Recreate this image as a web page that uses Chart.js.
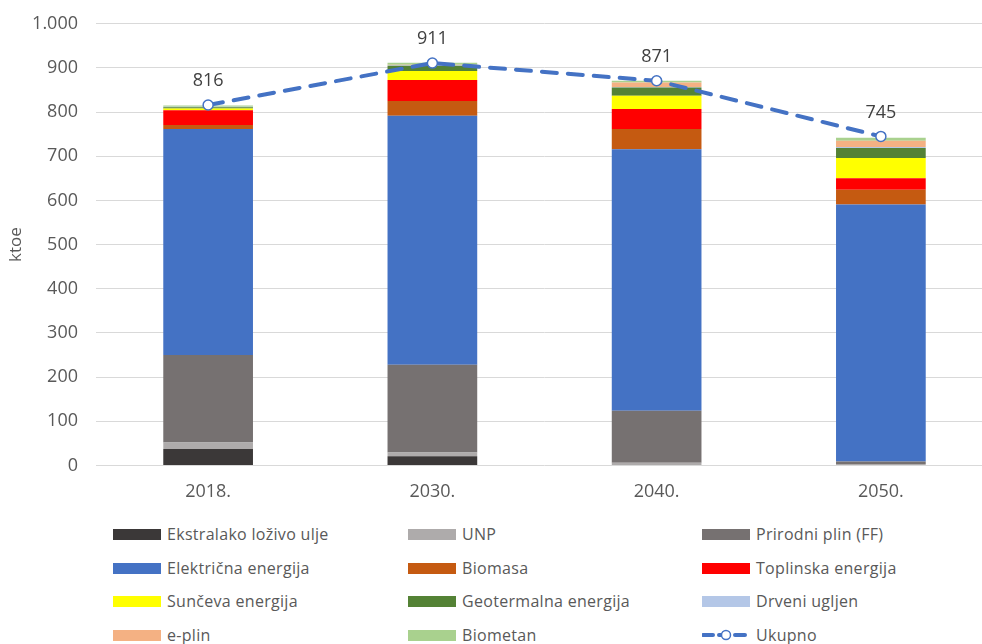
<!DOCTYPE html>
<html>
<head>
<meta charset="utf-8">
<script src="https://cdn.jsdelivr.net/npm/chart.js@4/dist/chart.umd.min.js"></script>
<style>
  html, body { margin: 0; padding: 0; background: #fff; }
  #wrap { position: relative; width: 982px; height: 644px; overflow: hidden; font-family: "Open Sans", sans-serif; }
  #box { position: absolute; left: 0; top: -5px; width: 1000px; height: 518px; }
  .leg { position: absolute; display: flex; align-items: center; font-size: 16px; color: #595959; white-space: nowrap; letter-spacing: 0.3px; }
  .sw { width: 48px; height: 11px; margin-right: 6px; }
</style>
</head>
<body>
<div id="wrap">
  <div id="box"><canvas id="c" width="1000" height="518"></canvas></div>
  <div id="legend"></div>
</div>
<script>
// ---- podaci (ktoe) ----
const godine = ['2018.', '2030.', '2040.', '2050.'];

const ekstralako  = [37, 21, 1, 0];
const unp         = [15, 8, 5, 3];
const prirodniPlin = [198, 199, 118, 6];
const elektricna  = [512, 564, 592, 582];
const biomasa     = [9, 33, 46, 33];
const toplinska   = [33, 48, 45, 26];
const suncana     = [4, 20, 30, 46];
const geotermalna = [3, 12, 19, 23];
const drveniUgljen = [1, 1, 1, 2];
const ePlin       = [0, 1, 10, 14];
const biometan    = [3, 5, 4, 7];
const ukupno      = [816, 911, 871, 745];

const yTicks = [0, 100, 200, 300, 400, 500, 600, 700, 800, 900, 1000];

const serije = [
  { label: 'Ekstralako loživo ulje', data: ekstralako,   color: '#3B3838' },
  { label: 'UNP',                    data: unp,          color: '#AEABAB' },
  { label: 'Prirodni plin (FF)',     data: prirodniPlin, color: '#767171' },
  { label: 'Električna energija',    data: elektricna,   color: '#4472C4' },
  { label: 'Biomasa',                data: biomasa,      color: '#C55A11' },
  { label: 'Toplinska energija',     data: toplinska,    color: '#FF0000' },
  { label: 'Sunčeva energija',       data: suncana,      color: '#FFFF00' },
  { label: 'Geotermalna energija',   data: geotermalna,  color: '#548235' },
  { label: 'Drveni ugljen',          data: drveniUgljen, color: '#B4C7E7' },
  { label: 'e-plin',                 data: ePlin,        color: '#F4B183' },
  { label: 'Biometan',               data: biometan,     color: '#A9D18E' },
];

const FONT = '"Open Sans", sans-serif';
const SIVA = '#595959';

const datasets = serije.map(s => ({
  type: 'bar',
  label: s.label,
  data: s.data,
  backgroundColor: s.color,
  borderWidth: 0,
  barPercentage: 0.40,
  categoryPercentage: 1,
  stack: 'izvori',
  order: 2,
}));

datasets.push({
  type: 'line',
  label: 'Ukupno',
  data: ukupno,
  borderColor: '#4472C4',
  borderWidth: 4,
  borderDash: [15, 11],
  borderCapStyle: 'round',
  pointRadius: 5,
  pointBorderWidth: 1.5,
  pointBackgroundColor: '#fff',
  pointBorderColor: '#4472C4',
  tension: 0,
  stack: 'ukupno',
  order: 0,
});

// oznake vrijednosti iznad linije
const oznakePlugin = {
  id: 'oznake',
  afterDatasetsDraw(chart) {
    const idx = chart.data.datasets.length - 1;
    const meta = chart.getDatasetMeta(idx);
    const ctx = chart.ctx;
    ctx.save();
    ctx.font = '18px ' + FONT;
    ctx.fillStyle = '#404040';
    ctx.textAlign = 'center';
    ctx.textBaseline = 'middle';
    meta.data.forEach((pt, i) => {
      ctx.fillText(String(ukupno[i]), pt.x, pt.y - 24);
    });
    ctx.restore();
  }
};

new Chart(document.getElementById('c'), {
  data: { labels: godine, datasets },
  options: {
    responsive: false,
    animation: false,
    layout: { padding: { top: 4, right: 7, bottom: 2, left: 0 } },
    plugins: {
      legend: { display: false },
      tooltip: { enabled: false },
    },
    scales: {
      x: {
        stacked: true,
        grid: { display: false },
        border: { display: false },
        ticks: { color: SIVA, font: { family: FONT, size: 18 }, padding: 8 },
      },
      y: {
        stacked: true,
        min: 0,
        max: 1000,
        afterBuildTicks: s => { s.ticks = yTicks.map(v => ({ value: v })); },
        afterFit: s => { s.width = 96; },
        grid: { color: '#D9D9D9', lineWidth: 1, drawTicks: false },
        border: { display: false },
        ticks: {
          color: SIVA,
          font: { family: FONT, size: 18 },
          padding: 18,
          callback: v => v.toLocaleString('de-DE'),
        },
        title: {
          display: true,
          text: 'ktoe',
          color: SIVA,
          font: { family: FONT, size: 17 },
          padding: { top: 6, bottom: 0 },
        },
      },
    },
  },
  plugins: [oznakePlugin],
});

// legenda (3 stupca)
const legX = [113, 408, 702];
const legY = [534, 568, 601, 635];
const leg = document.getElementById('legend');
const stavke = serije.map(s => ({ label: s.label, color: s.color })).concat([{ label: 'Ukupno', line: true }]);
stavke.forEach((s, i) => {
  const el = document.createElement('div');
  el.className = 'leg';
  el.style.left = legX[i % 3] + 'px';
  el.style.top = (legY[Math.floor(i / 3)] - 11) + 'px';
  el.style.height = '22px';
  if (s.line) {
    el.innerHTML = '<svg width="48" height="14" style="margin-right:6px"><line x1="1" y1="7" x2="47" y2="7" stroke="#4472C4" stroke-width="4" stroke-dasharray="10,6" stroke-linecap="round"/><circle cx="24" cy="7" r="4.5" fill="#fff" stroke="#4472C4" stroke-width="1.5"/></svg>';
  } else {
    el.innerHTML = '<div class="sw" style="background:' + s.color + '"></div>';
  }
  const t = document.createElement('span');
  t.textContent = s.label;
  el.appendChild(t);
  leg.appendChild(el);
});
</script>
</body>
</html>
